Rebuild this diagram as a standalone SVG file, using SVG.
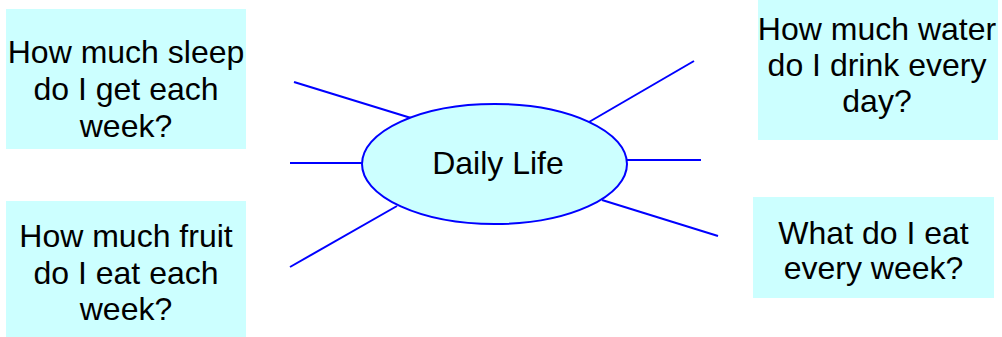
<svg xmlns="http://www.w3.org/2000/svg" width="1002" height="337" viewBox="0 0 1002 337">
<style>
.box{fill:#CCFFFF;stroke:none}
.t{font-family:"Liberation Sans",Arial,sans-serif;font-size:32px;fill:#000;text-anchor:middle}
.c{stroke:#0000FF;stroke-width:2;fill:none}
</style>
<rect width="1002" height="337" fill="#fff"/>
<g id="connectors">
<line class="c" x1="294" y1="82" x2="411" y2="118"/>
<line class="c" x1="290" y1="163" x2="362" y2="163"/>
<line class="c" x1="290" y1="267" x2="397" y2="206"/>
<line class="c" x1="589" y1="122" x2="694" y2="61"/>
<line class="c" x1="627" y1="160" x2="701" y2="160"/>
<line class="c" x1="602" y1="200" x2="718" y2="236"/>
</g>
<g id="center">
<ellipse cx="494.5" cy="164" rx="132.5" ry="60" fill="#CCFFFF" stroke="#0000FF" stroke-width="2"/>
<text class="t" x="498" y="174">Daily Life</text>
</g>
<g id="sleep">
<rect class="box" x="6" y="9" width="240" height="140"/>
<text class="t" x="126" y="62.5">How much sleep</text>
<text class="t" x="126" y="100">do I get each</text>
<text class="t" x="126" y="137">week?</text>
</g>
<g id="fruit">
<rect class="box" x="6" y="201" width="240" height="136"/>
<text class="t" x="126" y="247">How much fruit</text>
<text class="t" x="126" y="283.5">do I eat each</text>
<text class="t" x="126" y="320">week?</text>
</g>
<g id="water">
<rect class="box" x="758" y="0" width="240" height="140"/>
<text class="t" x="877" y="39.5">How much water</text>
<text class="t" x="877" y="76">do I drink every</text>
<text class="t" x="877" y="112">day?</text>
</g>
<g id="eat">
<rect class="box" x="753" y="197" width="241" height="101"/>
<text class="t" x="873.5" y="243.5">What do I eat</text>
<text class="t" x="873.5" y="278.5">every week?</text>
</g>
</svg>
